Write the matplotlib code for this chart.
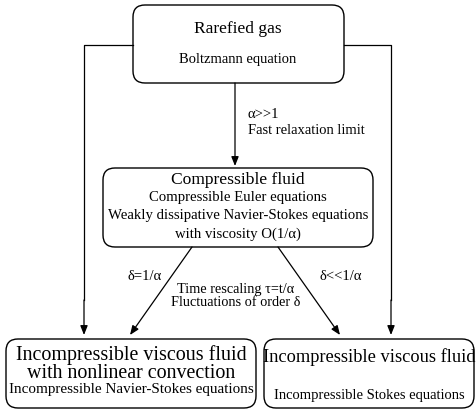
import matplotlib.pyplot as plt
from matplotlib.patches import FancyBboxPatch

plt.rcParams['font.family'] = ['Liberation Serif', 'DejaVu Serif']

# box texts: (title, subtitle lines)
top_title = "Rarefied gas"
top_lines = ["Boltzmann equation"]
mid_title = "Compressible fluid"
mid_lines = ["Compressible Euler equations",
             "Weakly dissipative Navier-Stokes equations",
             "with viscosity O(1/\u03b1)"]
left_lines = ["Incompressible viscous fluid", "with nonlinear convection"]
left_sub = "Incompressible Navier-Stokes equations"
right_title = "Incompressible viscous fluid"
right_sub = "Incompressible Stokes equations"

# arrow labels
relax_labels = ["\u03b1>>1", "Fast relaxation limit"]
left_diag_label = "\u03b4=1/\u03b1"
right_diag_label = "\u03b4<<1/\u03b1"
center_labels = ["Time rescaling \u03c4=t/\u03b1", "Fluctuations of order \u03b4"]

fig = plt.figure(figsize=(4.77, 4.18), dpi=100)
ax = fig.add_axes([0, 0, 1, 1])
ax.set_xlim(0, 477)
ax.set_ylim(418, 0)
ax.axis("off")


def box(x0, y0, x1, y1):
    p = FancyBboxPatch((x0, y0), x1 - x0, y1 - y0,
                       boxstyle="round,pad=0,rounding_size=12",
                       fc="white", ec="black", lw=1.0)
    ax.add_patch(p)


def arrow(x0, y0, x1, y1):
    ax.annotate("", xy=(x1, y1), xytext=(x0, y0),
                arrowprops=dict(arrowstyle="-|>,head_length=0.55,head_width=0.22",
                                color="black", lw=0.9, shrinkA=0, shrinkB=0,
                                mutation_scale=10))


# boxes
box(133, 5, 344, 83)
box(103, 168, 373, 247)
box(6, 339, 256, 408)
box(264, 339, 474, 408)

# top box text
ax.text(238, 29, top_title, ha="center", va="center", fontsize=12.5)
ax.text(238, 59, top_lines[0], ha="center", va="center", fontsize=10.5)

# middle box text
ax.text(238, 180, mid_title, ha="center", va="center", fontsize=12.6)
for i, s in enumerate(mid_lines):
    ax.text(238, 198 + i * 18, s, ha="center", va="center", fontsize=10.6)

# bottom left text
ax.text(131, 355, left_lines[0], ha="center", va="center", fontsize=14.4)
ax.text(131, 373, left_lines[1], ha="center", va="center", fontsize=14.4)
ax.text(131, 389, left_sub, ha="center", va="center", fontsize=10.9)

# bottom right text
ax.text(369, 357, right_title, ha="center", va="center", fontsize=13.2)
ax.text(369, 395, right_sub, ha="center", va="center", fontsize=10.5)

# connectors
arrow(235, 83, 235, 166)
ax.plot([133, 84, 84], [45, 45, 300], color="black", lw=0.9)
arrow(84, 300, 84, 335)
ax.plot([344, 391, 391], [45, 45, 300], color="black", lw=0.9)
arrow(391, 300, 391, 335)
arrow(192, 247, 130, 335)
arrow(278, 247, 340, 335)

# arrow labels
ax.text(248, 115, relax_labels[0], ha="left", va="center", fontsize=10.5)
ax.text(248, 131, relax_labels[1], ha="left", va="center", fontsize=10.5)
ax.text(162, 276, left_diag_label, ha="right", va="center", fontsize=10.5)
ax.text(320, 276, right_diag_label, ha="left", va="center", fontsize=10.5)
ax.text(236, 289, center_labels[0], ha="center", va="center", fontsize=10.3)
ax.text(236, 303, center_labels[1], ha="center", va="center", fontsize=10.3)

fig.savefig("out.png", dpi=100)
